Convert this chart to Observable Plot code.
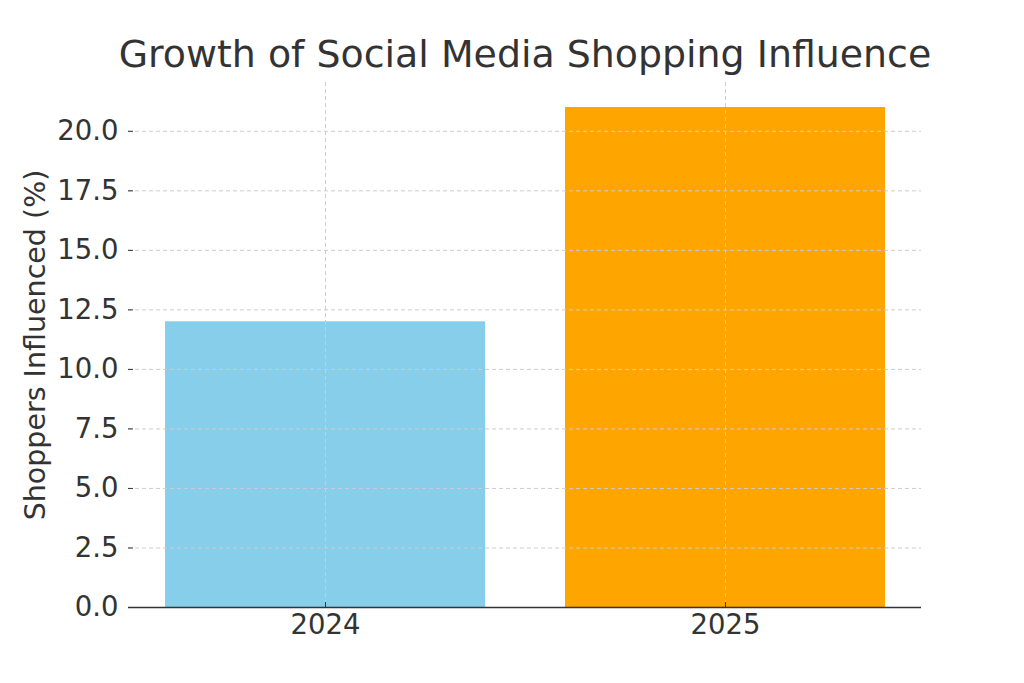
<!DOCTYPE html>
<html>
<head>
<meta charset="utf-8">
<script src="https://cdn.jsdelivr.net/npm/d3@7"></script>
<script src="https://cdn.jsdelivr.net/npm/@observablehq/plot@0.6"></script>
<style>
  html, body { margin: 0; padding: 0; background: #fff; }
  svg { display: block; }
</style>
</head>
<body>
<div id="chart"></div>
<script>
const years = ["2024", "2025"];
const values = [12, 21];
const colors = ["#87CEEB", "#FFA500"];
const yTicks = [0, 2.5, 5, 7.5, 10, 12.5, 15, 17.5, 20];
const titleText = ["Growth of Social Media Shopping Influence"];
const yLabel = ["Shoppers Influenced (%)"];

const data = years.map((y, i) => ({year: y, value: values[i], color: colors[i]}));

const font = "DejaVu Sans, sans-serif";
const ink = "#333333";
const gridColor = "#cccccc";

const plot = Plot.plot({
  width: 1024,
  height: 683,
  marginLeft: 128,
  marginRight: 103,
  marginTop: 82,
  marginBottom: 76,
  style: {fontFamily: font, background: "#fff", color: ink, overflow: "visible"},
  x: {type: "band", domain: years, paddingInner: 0.2, paddingOuter: 0.09, label: null, axis: null},
  y: {domain: [0, 22.05], label: null, axis: null},
  marks: [
    Plot.barY(data, {x: "year", y: "value", fill: "color"}),
    Plot.gridY(yTicks, {stroke: gridColor, strokeOpacity: 1, strokeWidth: 1, strokeDasharray: "4,3"}),
    Plot.gridX(years, {stroke: gridColor, strokeOpacity: 1, strokeWidth: 1, strokeDasharray: "4,3"}),
    Plot.axisY(yTicks, {tickSize: -5, tickPadding: 15, tickFormat: d => d.toFixed(1), fontSize: 27.5, stroke: ink, fill: ink, label: null}),
    Plot.axisX(years, {tickSize: -5, tickPadding: 12, fontSize: 27.5, stroke: ink, fill: ink, label: null}),
    Plot.ruleX([0], {frameAnchor: "left", stroke: ink, strokeWidth: 1.6}),
    Plot.ruleY([0], {stroke: ink, strokeWidth: 1.6}),
    Plot.text(yLabel, {frameAnchor: "left", dx: -93, rotate: -90, fontSize: 28.5, fill: ink, textAnchor: "middle"}),
    Plot.text(titleText, {frameAnchor: "top", lineAnchor: "bottom", dy: -16, fontSize: 37.9, fill: ink, textAnchor: "middle"})
  ]
});
document.getElementById("chart").appendChild(plot);
</script>
</body>
</html>
